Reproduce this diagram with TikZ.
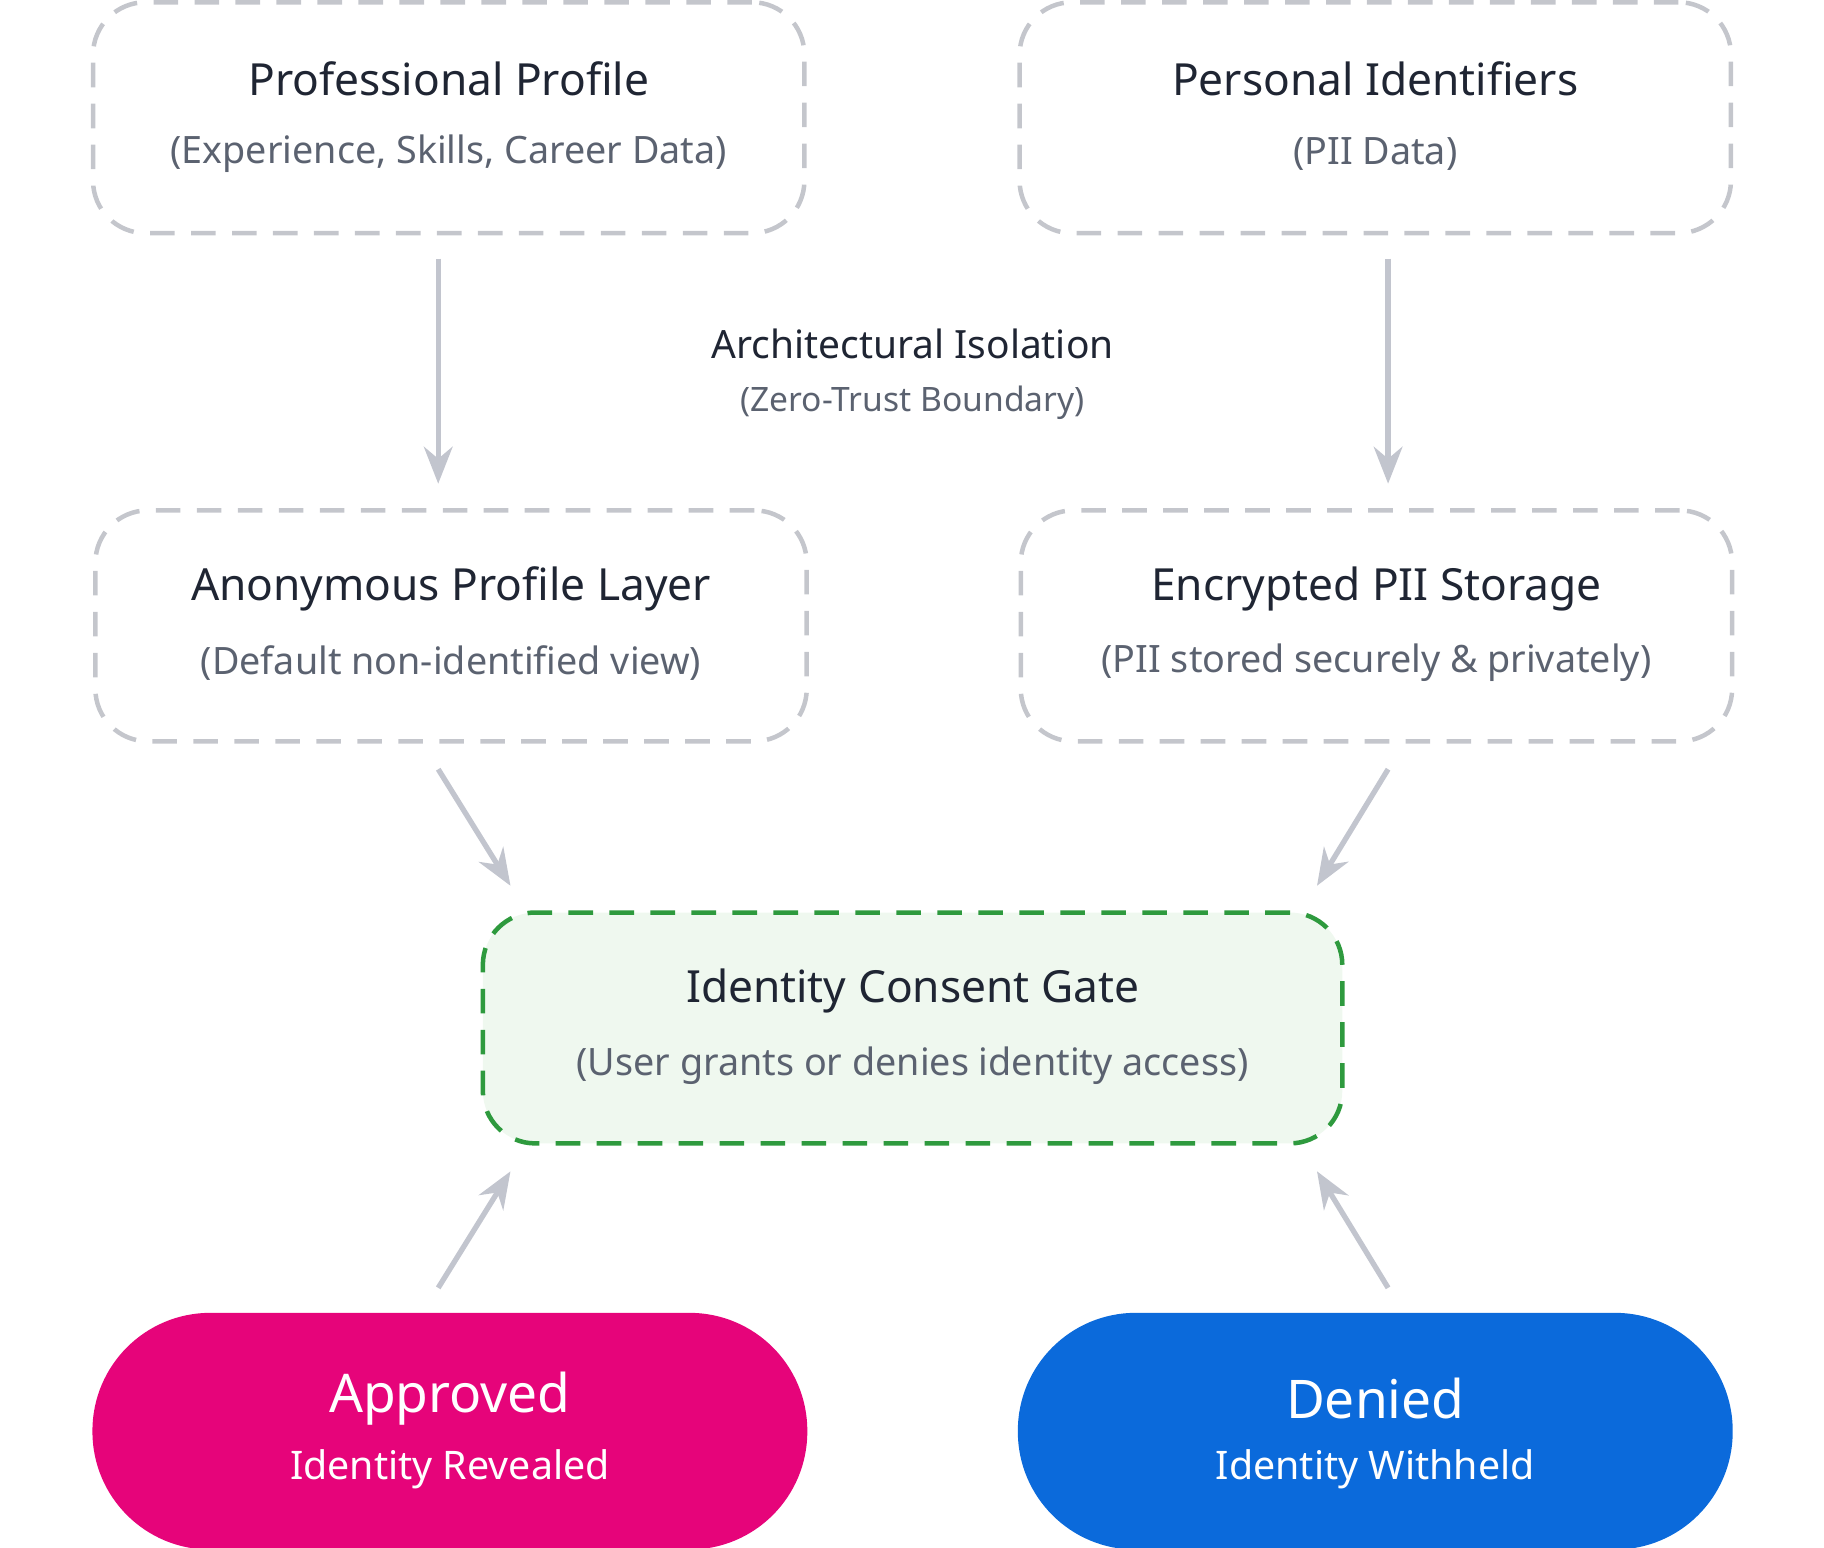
\documentclass[tikz,border=0pt]{standalone}
\usepackage{fontspec}
\setmainfont{Noto Sans}
\usetikzlibrary{arrows.meta}
\definecolor{titlec}{HTML}{1F2533}
\definecolor{subc}{HTML}{5B6270}
\definecolor{boxline}{HTML}{C4C6CC}
\definecolor{arrc}{HTML}{C2C5CE}
\definecolor{gateline}{HTML}{2E9A3E}
\definecolor{gatefill}{HTML}{EFF8EF}
\definecolor{pinkc}{HTML}{E6047A}
\definecolor{bluec}{HTML}{0B6ADB}
\tikzset{
  x=0.01cm,y=-0.01cm,
  dbox/.style={draw=boxline,dashed,dash pattern=on 6pt off 4pt,line width=1.1pt,rounded corners=0.45cm,minimum width=6.1cm,minimum height=1.98cm,align=center},
  gbox/.style={dbox,draw=gateline,fill=gatefill,minimum width=7.37cm},
  pill/.style={rounded corners=1.01cm,minimum width=6.13cm,minimum height=2.03cm,align=center,text=white},
  conn/.style={draw=arrc,line width=1.3pt,-{Stealth[length=9pt,width=7pt]}},
  ttl/.style={font=\fontsize{10.8}{13}\selectfont,text=titlec},
  sub/.style={font=\fontsize{9.2}{12}\selectfont,text=subc}
}
\begin{document}
\begin{tikzpicture}
\useasboundingbox (0,0) rectangle (1565,1328);
\node[dbox] (pp) at (385,101) {};
\node[ttl] at (385,68) {Professional Profile};
\node[sub] at (385,132) {(Experience, Skills, Career Data)};
\node[dbox] (pi) at (1180,101) {};
\node[ttl] at (1180,68) {Personal Identifiers};
\node[sub] at (1180,132) {(PII Data)};
\node[dbox] (ap) at (387,537) {};
\node[ttl] at (387,505) {Anonymous Profile Layer};
\node[sub] at (387,569) {(Default non-identified view)};
\node[dbox] (ep) at (1181,537) {};
\node[ttl] at (1181,505) {Encrypted PII Storage};
\node[sub] at (1181,569) {(PII stored securely \& privately)};
\node[gbox] (gate) at (783,882) {};
\node[ttl] at (783,850) {Identity Consent Gate};
\node[sub] at (783,914) {(User grants or denies identity access)};
\node[pill,fill=pinkc] (appr) at (386,1228) {};
\node[text=white,font=\bfseries\fontsize{13}{15}\selectfont] at (386,1200) {Approved};
\node[text=white,font=\fontsize{9.6}{12}\selectfont] at (386,1261) {Identity Revealed};
\node[pill,fill=bluec] (den) at (1180,1228) {};
\node[text=white,font=\bfseries\fontsize{13}{15}\selectfont] at (1180,1200) {Denied};
\node[text=white,font=\fontsize{9.6}{12}\selectfont] at (1180,1261) {Identity Withheld};
\node[ttl,font=\fontsize{9.5}{12}\selectfont] (iso) at (783,295) {Architectural Isolation};
\node[sub,font=\fontsize{8.2}{10}\selectfont] (iso2) at (783,346) {(Zero-Trust Boundary)};
\coordinate (a1) at (376,222); \coordinate (a2) at (376,415);
\coordinate (b1) at (1191,222); \coordinate (b2) at (1191,415);
\coordinate (c1) at (376,660); \coordinate (c2) at (438,760);
\coordinate (d1) at (1191,660); \coordinate (d2) at (1130,760);
\coordinate (e1) at (376,1105); \coordinate (e2) at (438,1005);
\coordinate (f1) at (1191,1105); \coordinate (f2) at (1130,1005);
\draw[conn] (a1) -- (a2);
\draw[conn] (b1) -- (b2);
\draw[conn] (c1) -- (c2);
\draw[conn] (d1) -- (d2);
\draw[conn] (e1) -- (e2);
\draw[conn] (f1) -- (f2);
\end{tikzpicture}
\end{document}
